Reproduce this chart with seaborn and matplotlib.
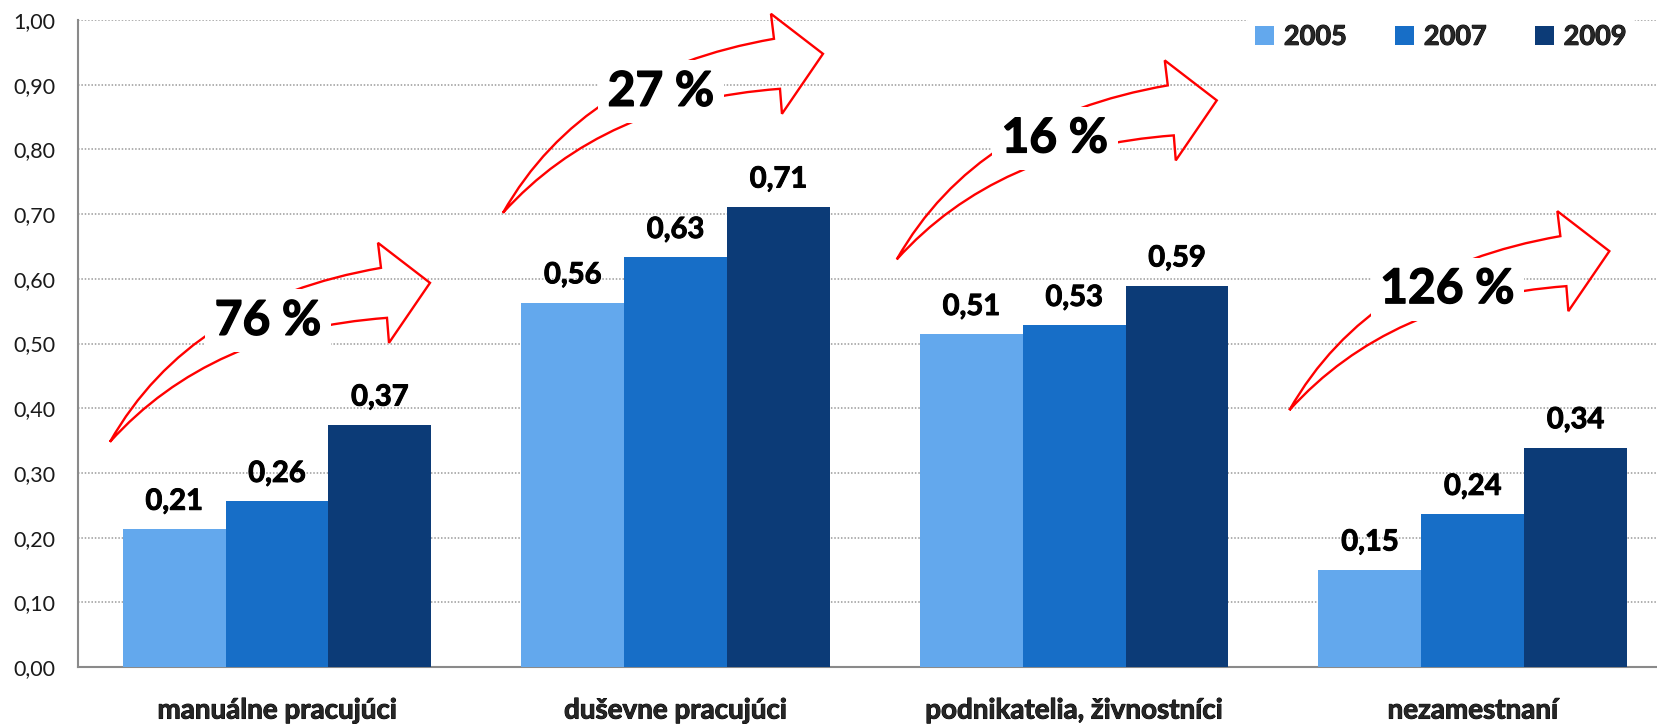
import numpy as np
import pandas as pd
import seaborn as sns
import matplotlib.pyplot as plt
import matplotlib.transforms as mtransforms
import matplotlib.patheffects as pe
from matplotlib.path import Path
from matplotlib.patches import PathPatch
from matplotlib.ticker import FuncFormatter, FixedLocator

# Data
categories = ["manuálne pracujúci", "duševne pracujúci", "podnikatelia, živnostníci", "nezamestnaní"]
years = ["2005", "2007", "2009"]
values_2005 = [0.213, 0.563, 0.514, 0.150]
values_2007 = [0.256, 0.633, 0.528, 0.236]
values_2009 = [0.374, 0.711, 0.589, 0.339]
colors = ["#63a8ed", "#176ec7", "#0c3b77"]

# growth annotations (label + where the arrow tail sits, in data units)
growth_labels = ["76 %", "27 %", "16 %", "126 %"]
arrow_tail_x = [-0.419, 0.567, 1.555, 2.540]
arrow_tail_y = [0.348, 0.702, 0.630, 0.397]

sns.set_style("white")
plt.rcParams['font.family'] = ['Lato', 'DejaVu Sans']

rows = []
for yr, vals in zip(years, [values_2005, values_2007, values_2009]):
    for cat, v in zip(categories, vals):
        rows.append({"skupina": cat, "rok": yr, "hodnota": v})
df = pd.DataFrame(rows)

fig = plt.figure(figsize=(16.58, 7.24), dpi=100)
ax = fig.add_axes([77.7 / 1658, 57 / 724, 1594.3 / 1658, 647 / 724])

sns.barplot(data=df, x="skupina", y="hodnota", hue="rok", palette=colors,
            width=0.774, gap=0, saturation=1, linewidth=0, ax=ax, zorder=3)

ax.set_xlim(-0.5, 3.5)
ax.set_ylim(0, 1.0)
ax.set_xlabel("")
ax.set_ylabel("")

# slightly heavier bold, closer to the original look
heavy = [pe.withStroke(linewidth=0.7, foreground="black")]

# y axis
ax.yaxis.set_major_locator(FixedLocator(np.arange(0, 1.01, 0.1)))
ax.yaxis.set_major_formatter(FuncFormatter(lambda v, p: f"{v:.2f}".replace(".", ",")))
ax.tick_params(axis="y", length=0, pad=16, labelsize=15.5, labelcolor="#1a1a1a")
ax.grid(axis="y", color="#9a9a9a", linestyle=(0, (1, 1.2)), linewidth=1.1, zorder=0)
ax.set_axisbelow(True)

# x axis
ax.tick_params(axis="x", which="major", length=0, pad=22, labelsize=20)
for lbl in ax.get_xticklabels():
    lbl.set_fontweight("bold")
    lbl.set_path_effects(heavy)
ax.set_xticks(np.arange(-0.5, 4, 1), minor=True)
ax.tick_params(axis="x", which="minor", length=7, width=1.5, color="#8a8a8a", direction="out")

for s in ["top", "right"]:
    ax.spines[s].set_visible(False)
for s in ["left", "bottom"]:
    ax.spines[s].set_color("#8a8a8a")
    ax.spines[s].set_linewidth(1.5)

# value labels above bars
for cont in ax.containers:
    for bar in cont:
        h = bar.get_height()
        ax.annotate(f"{h:.2f}".replace(".", ","), xy=(bar.get_x() + bar.get_width() / 2, h),
                    xytext=(0, 14), textcoords="offset points", ha="center", va="baseline",
                    fontsize=21, fontweight="bold", color="black", zorder=5,
                    path_effects=heavy)

# curved arrows (shape in pixels relative to the tail point)
verts = [(0, 0), (80, 141), (271, 174), (268, 199), (320, 159), (279, 99),
         (277, 124), (100, 111), (0, 0), (0, 0)]
codes = [Path.MOVETO, Path.CURVE3, Path.CURVE3, Path.LINETO, Path.LINETO, Path.LINETO,
         Path.LINETO, Path.CURVE3, Path.CURVE3, Path.CLOSEPOLY]
arrow_path = Path(verts, codes)

for lab, tx, ty in zip(growth_labels, arrow_tail_x, arrow_tail_y):
    tr = mtransforms.Affine2D() + mtransforms.ScaledTranslation(tx, ty, ax.transData)
    patch = PathPatch(arrow_path, facecolor="none", edgecolor="#ff0000", linewidth=1.7,
                      transform=tr, zorder=6, clip_on=False)
    ax.add_patch(patch)
    ax.annotate(lab, xy=(tx, ty), xytext=(158 * 0.72, 107 * 0.72), textcoords="offset points",
                ha="center", va="baseline", fontsize=34.5, fontweight="bold", color="black",
                bbox=dict(boxstyle="square,pad=0.2", fc="white", ec="none"), zorder=7,
                path_effects=[pe.withStroke(linewidth=1.0, foreground="black")])

# legend
handles, labels = ax.get_legend_handles_labels()
leg = ax.legend(handles, labels, loc="center right", bbox_to_anchor=(0.985, 0.974), ncol=3,
                frameon=True, facecolor="white", edgecolor="none", framealpha=1,
                prop=dict(weight="bold", size=19.5), handlelength=0.7, handleheight=0.7,
                handletextpad=0.35, columnspacing=1.8, borderpad=0.3)
for t in leg.get_texts():
    t.set_path_effects(heavy)
leg.set_zorder(8)

fig.savefig("out.png", dpi=100)
